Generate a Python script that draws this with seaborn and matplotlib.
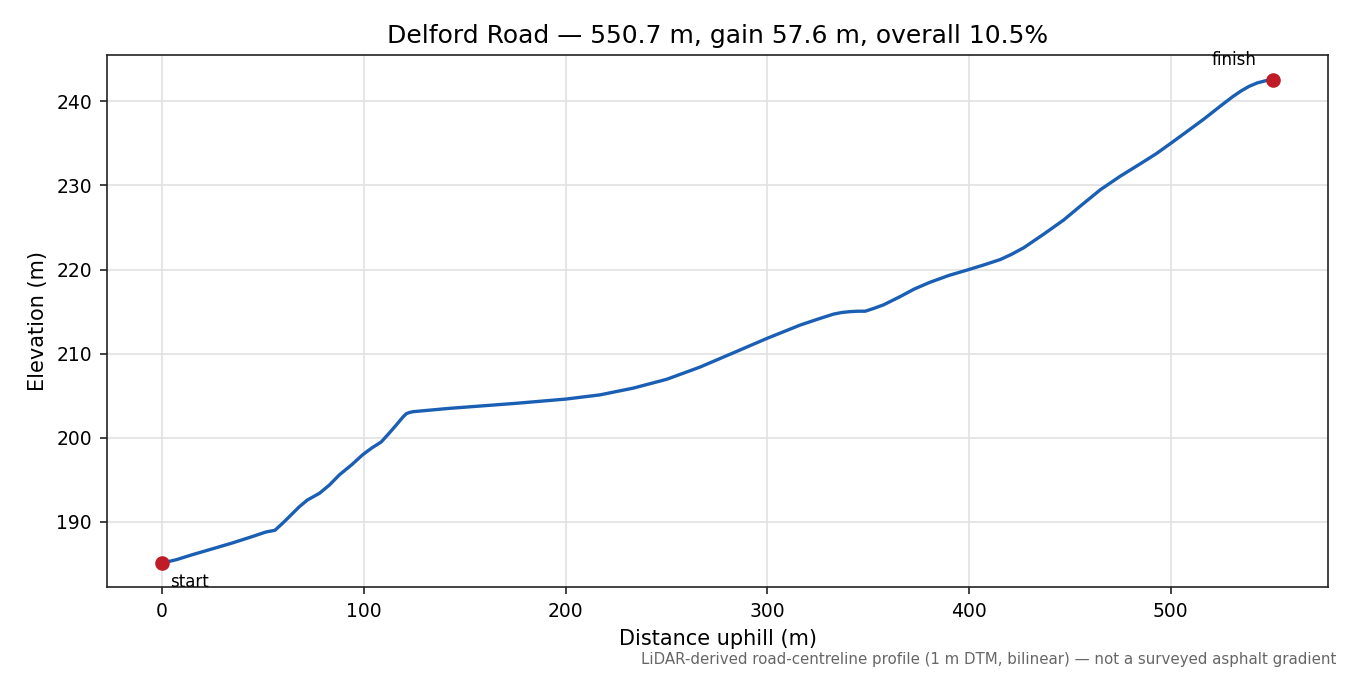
import numpy as np
import pandas as pd
import seaborn as sns
import matplotlib.pyplot as plt

# profile (distance uphill in m, elevation in m)
distance = [0, 7, 15, 25, 34.9, 44, 51.5, 55.9, 60, 68, 72, 78, 83, 87.9, 94, 99.5,
            104, 108.6, 112, 116, 119.5, 121, 122.5, 124.3, 142.5, 175.6, 200.1,
            217, 233.5, 250.1, 266.6, 283.2, 299.7, 316.3, 325, 332.8, 337, 341.1,
            345, 348.6, 353, 357.6, 366, 373, 380.8, 390, 399.9, 408, 415.6, 421,
            427.2, 437, 447, 456, 465.2, 475, 485.1, 493, 500, 508, 516.5, 525,
            531, 535, 539, 543, 547, 550.7]
elevation = [185.1, 185.5, 186.1, 186.8, 187.5, 188.2, 188.8, 189.0, 189.9, 191.8,
             192.6, 193.4, 194.4, 195.6, 196.8, 198.0, 198.8, 199.5, 200.4, 201.5,
             202.5, 202.85, 203.0, 203.1, 203.5, 204.1, 204.6, 205.1, 205.9, 206.95,
             208.4, 210.1, 211.8, 213.4, 214.1, 214.7, 214.9, 215.0, 215.05, 215.05,
             215.4, 215.8, 216.8, 217.7, 218.5, 219.3, 220.0, 220.6, 221.2, 221.8,
             222.6, 224.2, 225.9, 227.7, 229.5, 231.1, 232.6, 233.8, 235.0, 236.4,
             237.9, 239.5, 240.6, 241.25, 241.8, 242.2, 242.45, 242.6]
end_labels = ["start", "finish"]

road = "Delford Road"
length_m = 550.7
gain_m = 57.6
grade_pct = 10.5

line_col = "#1a5fb4"
pt_col = "#c01c28"

sns.set_style("ticks")
plt.rcParams['font.family'] = ['DejaVu Sans']
plt.rcParams.update({"text.color": "black", "axes.labelcolor": "black",
                     "xtick.color": "black", "ytick.color": "black"})

df = pd.DataFrame({"d": distance, "z": elevation})

fig, ax = plt.subplots(figsize=(9, 4.5), dpi=150)
fig.subplots_adjust(left=0.079, right=0.984, top=0.918, bottom=0.130)

sns.lineplot(data=df, x="d", y="z", color=line_col, linewidth=1.6, ax=ax)
ends = df.iloc[[0, -1]]
ax.plot(ends["d"], ends["z"], "o", color=pt_col, markersize=6, zorder=4)

ax.annotate(end_labels[0], (ends["d"].iloc[0], ends["z"].iloc[0]),
            xytext=(4, -5), textcoords="offset points", ha="left", va="top",
            fontsize=8)
ax.annotate(end_labels[1], (ends["d"].iloc[1], ends["z"].iloc[1]),
            xytext=(-8, 5), textcoords="offset points", ha="right", va="bottom",
            fontsize=8)

ax.grid(True, color="#e2e2e2", linewidth=0.8)
for s in ax.spines.values():
    s.set_visible(True)
    s.set_color("#222222")
    s.set_linewidth(0.8)
ax.tick_params(labelsize=9, direction="out", length=3.5, width=0.8,
               color="#222222", bottom=True, left=True)

ax.set_title(f"{road} \u2014 {length_m} m, gain {gain_m} m, overall {grade_pct}%",
             fontsize=12)
ax.set_xlabel("Distance uphill (m)", fontsize=10)
ax.set_ylabel("Elevation (m)", fontsize=10)

fig.text(0.99, 0.012,
         "LiDAR-derived road-centreline profile (1 m DTM, bilinear) \u2014 not a surveyed asphalt gradient",
         ha="right", va="bottom", fontsize=7.2, color="#666666")

fig.savefig("out.png", dpi=150)
